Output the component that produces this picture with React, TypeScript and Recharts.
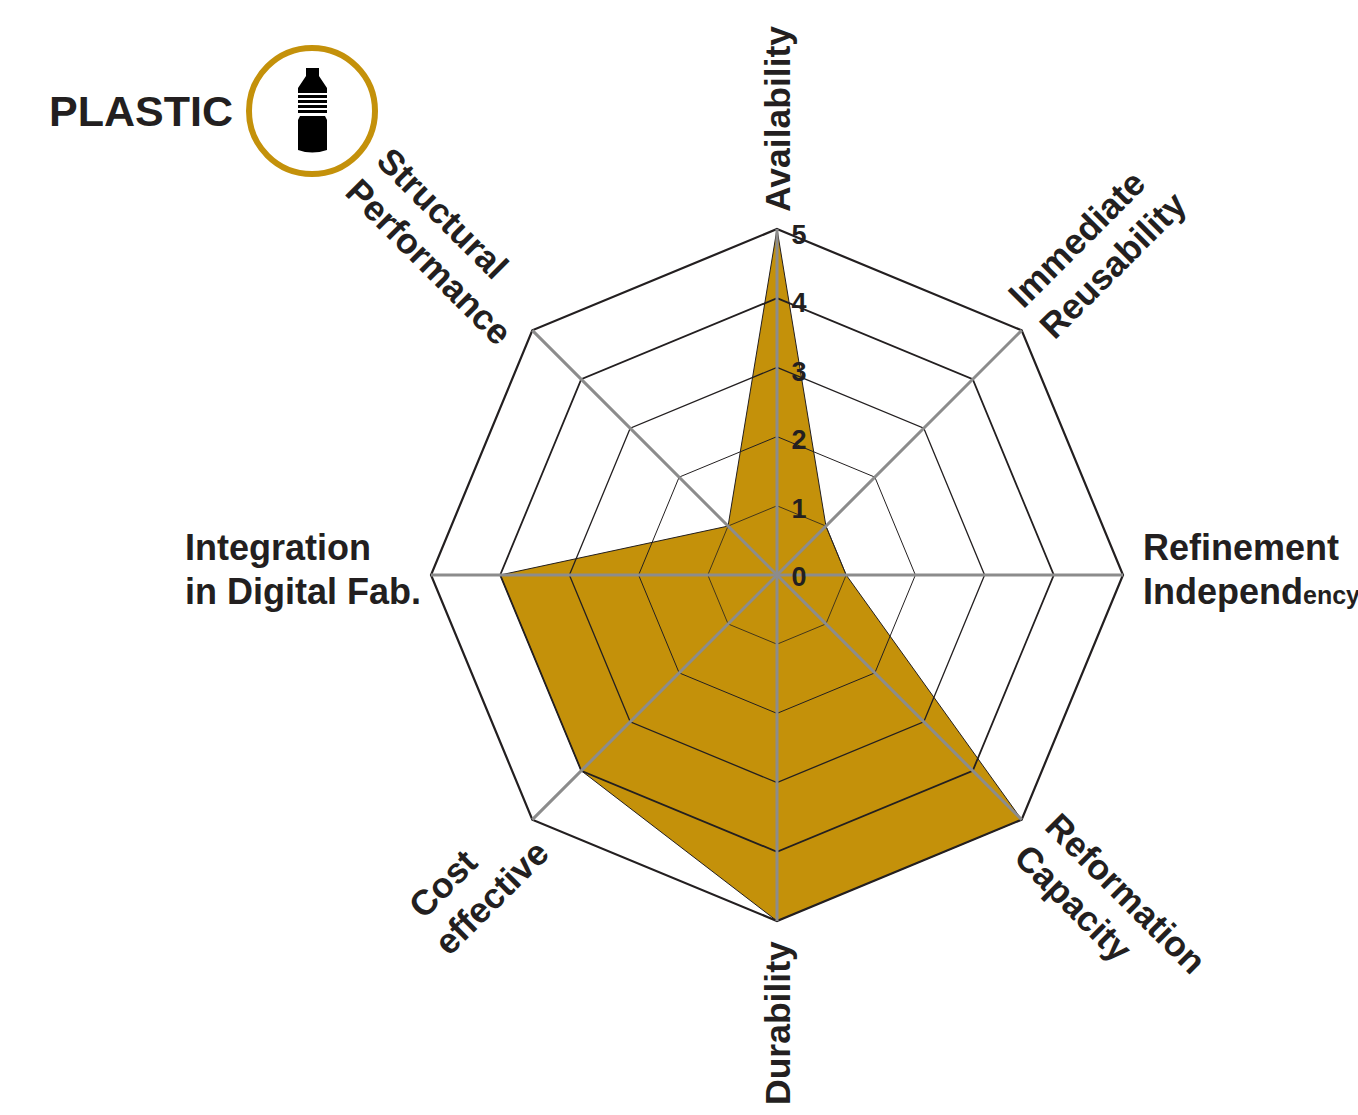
import { PolarAngleAxis, PolarRadiusAxis, Radar, RadarChart } from 'recharts';

const categories = [
  'Availability',
  'Immediate Reusability',
  'Refinement Independency',
  'Reformation Capacity',
  'Durability',
  'Cost effective',
  'Integration in Digital Fab.',
  'Structural Performance',
];
const plastic = [5, 1, 1, 5, 5, 4, 4, 1];
const ring1 = [1, 1, 1, 1, 1, 1, 1, 1];
const ring2 = [2, 2, 2, 2, 2, 2, 2, 2];
const ring3 = [3, 3, 3, 3, 3, 3, 3, 3];
const ring4 = [4, 4, 4, 4, 4, 4, 4, 4];
const ring5 = [5, 5, 5, 5, 5, 5, 5, 5];
// the gray spokes: two zigzag series, out to 5 and back to the centre
const spokesA = [5, 0, 5, 0, 5, 0, 5, 0];
const spokesB = [0, 5, 0, 5, 0, 5, 0, 5];
const radiusTicks = [0, 1, 2, 3, 4, 5];

const INK = '#231f20';
const GOLD = '#c4910a';
const SPOKE = '#8c8c8c';

const data = categories.map((name, i) => ({
  name,
  plastic: plastic[i],
  ring1: ring1[i],
  ring2: ring2[i],
  ring3: ring3[i],
  ring4: ring4[i],
  ring5: ring5[i],
  spokesA: spokesA[i],
  spokesB: spokesB[i],
}));

// where each label sits relative to its axis end, and how it is turned
const labelLayout: Record<
  string,
  { dx: number; dy: number; rotate: number; size: number; lines: string[]; indent?: number }
> = {
  Availability: { dx: 13, dy: -9, rotate: -90, size: 35.5, lines: ['Availability'] },
  'Immediate Reusability': { dx: -4, dy: -15, rotate: -45, size: 35.5, lines: ['Immediate', 'Reusability'] },
  'Refinement Independency': { dx: 12, dy: -15, rotate: 0, size: 36, lines: ['Refinement', 'Independ|ency'] },
  'Reformation Capacity': { dx: 16, dy: 3, rotate: 45, size: 35.5, lines: ['Reformation', 'Capacity'] },
  Durability: { dx: 13, dy: 176, rotate: -90, size: 35.5, lines: ['Durability'] },
  'Cost effective': { dx: -103, dy: 95, rotate: -45, size: 35.5, lines: ['Cost', 'effective'], indent: -8 },
  'Integration in Digital Fab.': { dx: -238, dy: -15, rotate: 0, size: 36, lines: ['Integration', 'in Digital Fab.'] },
  'Structural Performance': { dx: -152, dy: -162, rotate: 45, size: 35.5, lines: ['Structural', 'Performance'] },
};

function CategoryTick({ x, y, payload }: any) {
  const layout = labelLayout[payload.value];
  if (!layout) return null;
  return (
    <text
      transform={`translate(${x + layout.dx} ${y + layout.dy}) rotate(${layout.rotate})`}
      fontFamily="Liberation Sans"
      fontWeight="bold"
      fontSize={layout.size}
      fill={INK}
      textAnchor="start"
    >
      {layout.lines.map((line, i) => {
        const [head, tail] = line.split('|');
        return (
          <tspan key={line} x={i > 0 ? layout.indent ?? 0 : 0} y={i * 44}>
            {head}
            {tail && <tspan fontSize={25}>{tail}</tspan>}
          </tspan>
        );
      })}
    </text>
  );
}

function RadiusTick({ x, y, payload }: any) {
  return (
    <text
      x={x + 22}
      y={y + 11 + payload.value * 0.8}
      textAnchor="middle"
      fontFamily="Liberation Sans"
      fontWeight="bold"
      fontSize={27}
      fill={INK}
    >
      {payload.value}
    </text>
  );
}

function PlasticBadge() {
  return (
    <svg width={400} height={190} style={{ position: 'absolute', left: 0, top: 0 }}>
      <text x={49} y={126} fontFamily="Liberation Sans" fontWeight="bold" fontSize={43} fill={INK}>
        PLASTIC
      </text>
      <circle cx={312} cy={111} r={63} fill="#fff" stroke={GOLD} strokeWidth={6} />
      <path d="M306 68 H319 V76 L327 88 V93 H298 V88 L306 76 Z" fill="#000" />
      <rect x={298} y={95} width={29} height={3} fill="#000" />
      <rect x={298} y={100} width={29} height={3} fill="#000" />
      <rect x={298} y={105} width={29} height={3} fill="#000" />
      <rect x={298} y={110} width={29} height={3} fill="#000" />
      <path d="M300 116 H325 L327 120 V150 Q312 155 298 150 V120 Z" fill="#000" />
    </svg>
  );
}

export default function App() {
  return (
    <div style={{ position: 'fixed', left: 0, top: 0, width: 1358, height: 1115, overflow: 'hidden', background: '#fff' }}>
      <RadarChart
        width={1358}
        height={1115}
        data={data}
        cx={777}
        cy={575}
        outerRadius={346}
        margin={{ top: 0, right: 0, bottom: 0, left: 0 }}
      >
        <Radar dataKey="plastic" fill={GOLD} fillOpacity={1} stroke={INK} strokeWidth={1} dot={false} isAnimationActive={false} />
        <Radar dataKey="ring1" fill="none" fillOpacity={0} stroke={INK} strokeWidth={0.8} dot={false} isAnimationActive={false} />
        <Radar dataKey="ring2" fill="none" fillOpacity={0} stroke={INK} strokeWidth={1} dot={false} isAnimationActive={false} />
        <Radar dataKey="ring3" fill="none" fillOpacity={0} stroke={INK} strokeWidth={1.3} dot={false} isAnimationActive={false} />
        <Radar dataKey="ring4" fill="none" fillOpacity={0} stroke={INK} strokeWidth={1.8} dot={false} isAnimationActive={false} />
        <Radar dataKey="ring5" fill="none" fillOpacity={0} stroke={INK} strokeWidth={2.2} dot={false} isAnimationActive={false} />
        <Radar dataKey="spokesA" fill="none" fillOpacity={0} stroke={SPOKE} strokeWidth={3} dot={false} isAnimationActive={false} />
        <Radar dataKey="spokesB" fill="none" fillOpacity={0} stroke={SPOKE} strokeWidth={3} dot={false} isAnimationActive={false} />
        <PolarAngleAxis dataKey="name" tick={CategoryTick} tickLine={false} axisLine={false} />
        <PolarRadiusAxis
          angle={90}
          domain={[0, 5]}
          ticks={radiusTicks as any}
          tickCount={6}
          tick={RadiusTick}
          tickLine={false}
          axisLine={false}
        />
      </RadarChart>
      <PlasticBadge />
    </div>
  );
}
